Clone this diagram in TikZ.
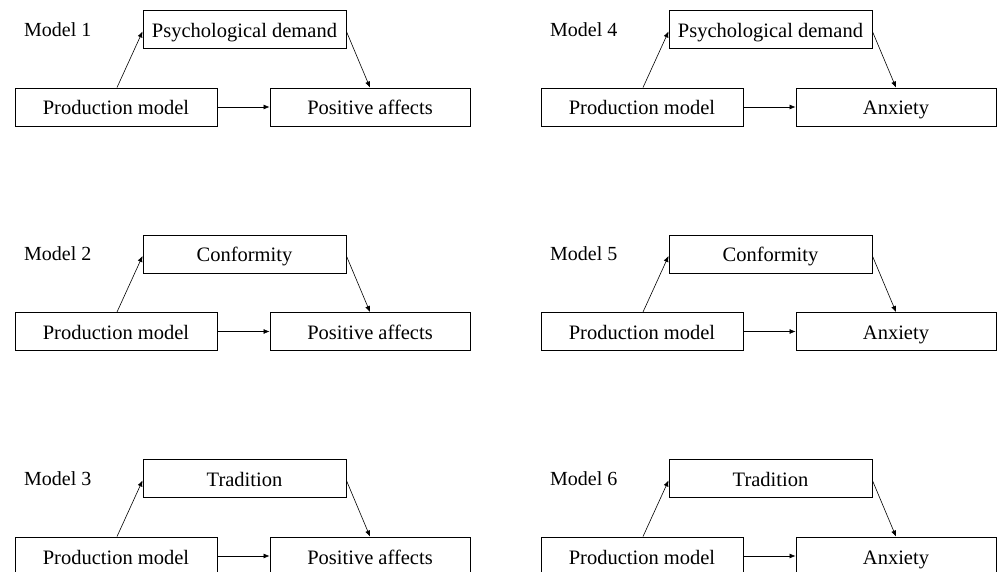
\documentclass[tikz,border=0pt]{standalone}
\usepackage{fontspec}
\setmainfont{Liberation Serif}
\usetikzlibrary{arrows.meta}
\begin{document}
\begin{tikzpicture}[x=1pt,y=-1pt,
  box/.style={draw, line width=0.9pt, minimum height=38pt, inner sep=0pt, text height=16pt, text depth=0pt, font=\fontsize{20.5}{22}\selectfont},
  lbl/.style={anchor=west, inner sep=0pt, text height=16pt, text depth=0pt, font=\fontsize{20}{22}\selectfont},
  arr/.style={-{Latex[length=6pt,width=5pt]}, line width=0.6pt}]
\clip (0,0) rectangle (997,572);
\useasboundingbox (0,0) rectangle (997,572);
\foreach \n/\x/\y/\med/\out in {1/0/0/Psychological demand/Positive affects,
                                 2/0/224.5/Conformity/Positive affects,
                                 3/0/449/Tradition/Positive affects,
                                 4/526/0/Psychological demand/Anxiety,
                                 5/526/224.5/Conformity/Anxiety,
                                 6/526/449/Tradition/Anxiety}{
  \node[lbl] (lab\n) at (\x+24, \y+28.5) {Model \n};
  \node[box, minimum width=203pt] (med\n) at (\x+244.5, \y+29.5) {\med};
  \node[box, minimum width=202pt] (pro\n) at (\x+116, \y+107) {Production model};
  \node[box, minimum width=200pt] (out\n) at (\x+370, \y+107) {\out};
  \draw[arr] ([xshift=1pt]pro\n.north) -- ([yshift=-2pt]med\n.west);
  \draw[arr] ([yshift=-2pt]med\n.east) -- (out\n.north);
  \draw[arr] (pro\n.east) -- (out\n.west);
}
\end{tikzpicture}
\end{document}
